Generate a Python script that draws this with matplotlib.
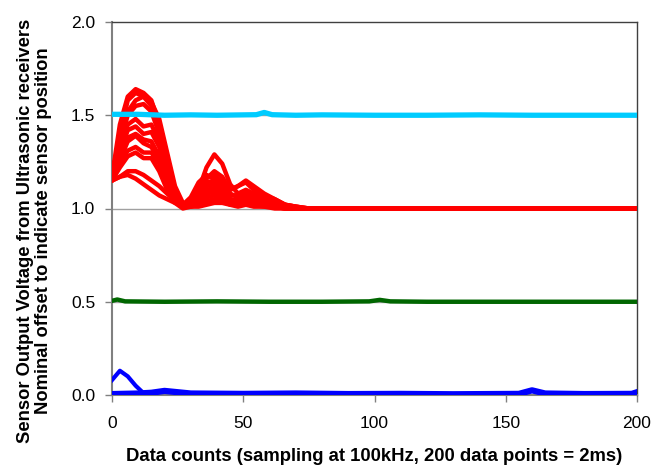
import matplotlib
matplotlib.use("Agg")
import matplotlib.pyplot as plt

plt.rcParams['font.family'] = ['Liberation Sans', 'DejaVu Sans']

# Red sensor curves (offset 1.0)
x_red = [0, 3, 6, 9, 12, 15, 18, 21, 24, 27, 30, 33, 36, 39, 42, 45, 48, 51, 54, 58, 62, 66, 70, 75, 200]
red_1 = [1.17, 1.45, 1.60, 1.64, 1.62, 1.58, 1.45, 1.25, 1.08, 1.02, 1.03, 1.10, 1.22, 1.29, 1.24, 1.13, 1.08, 1.10, 1.08, 1.05, 1.04, 1.02, 1.01, 1.0, 1.0]
red_2 = [1.16, 1.40, 1.58, 1.62, 1.60, 1.57, 1.48, 1.30, 1.12, 1.03, 1.02, 1.08, 1.16, 1.20, 1.17, 1.10, 1.12, 1.14, 1.10, 1.07, 1.05, 1.02, 1.01, 1.0, 1.0]
red_3 = [1.15, 1.35, 1.50, 1.55, 1.56, 1.52, 1.40, 1.22, 1.06, 1.01, 1.04, 1.12, 1.17, 1.18, 1.14, 1.08, 1.06, 1.08, 1.06, 1.04, 1.02, 1.01, 1.0, 1.0, 1.0]
red_4 = [1.16, 1.32, 1.45, 1.48, 1.44, 1.45, 1.36, 1.20, 1.06, 1.02, 1.05, 1.10, 1.14, 1.15, 1.12, 1.07, 1.07, 1.09, 1.06, 1.04, 1.03, 1.01, 1.0, 1.0, 1.0]
red_5 = [1.15, 1.30, 1.42, 1.44, 1.40, 1.41, 1.33, 1.18, 1.05, 1.01, 1.03, 1.08, 1.12, 1.13, 1.10, 1.05, 1.04, 1.06, 1.05, 1.03, 1.02, 1.01, 1.0, 1.0, 1.0]
red_6 = [1.17, 1.28, 1.38, 1.40, 1.37, 1.36, 1.28, 1.15, 1.04, 1.01, 1.04, 1.07, 1.10, 1.11, 1.08, 1.04, 1.05, 1.07, 1.04, 1.02, 1.02, 1.01, 1.0, 1.0, 1.0]
red_7 = [1.16, 1.24, 1.31, 1.33, 1.30, 1.30, 1.24, 1.13, 1.04, 1.01, 1.02, 1.05, 1.08, 1.09, 1.06, 1.03, 1.03, 1.05, 1.03, 1.02, 1.01, 1.0, 1.0, 1.0, 1.0]
red_8 = [1.15, 1.22, 1.28, 1.30, 1.27, 1.27, 1.20, 1.10, 1.03, 1.00, 1.01, 1.03, 1.06, 1.07, 1.05, 1.02, 1.03, 1.04, 1.03, 1.02, 1.01, 1.0, 1.0, 1.0, 1.0]
red_9 = [1.15, 1.17, 1.20, 1.20, 1.18, 1.15, 1.12, 1.08, 1.04, 1.02, 1.01, 1.02, 1.04, 1.05, 1.04, 1.03, 1.02, 1.03, 1.02, 1.01, 1.01, 1.0, 1.0, 1.0, 1.0]
red_10 = [1.15, 1.17, 1.18, 1.16, 1.13, 1.10, 1.07, 1.05, 1.03, 1.02, 1.01, 1.01, 1.02, 1.03, 1.03, 1.02, 1.01, 1.02, 1.01, 1.01, 1.0, 1.0, 1.0, 1.0, 1.0]
red_11 = [1.18, 1.38, 1.52, 1.58, 1.60, 1.55, 1.46, 1.28, 1.10, 1.02, 1.06, 1.14, 1.18, 1.16, 1.12, 1.10, 1.12, 1.15, 1.12, 1.08, 1.05, 1.02, 1.01, 1.0, 1.0]
red_12 = [1.16, 1.26, 1.36, 1.39, 1.35, 1.33, 1.26, 1.14, 1.04, 1.01, 1.03, 1.06, 1.09, 1.10, 1.08, 1.05, 1.04, 1.06, 1.05, 1.03, 1.02, 1.01, 1.0, 1.0, 1.0]
red_series = [red_1, red_2, red_3, red_4, red_5, red_6, red_7, red_8, red_9, red_10, red_11, red_12]

# Cyan sensor (offset 1.5)
x_cyan = [0, 10, 20, 30, 40, 50, 55, 58, 61, 70, 80, 100, 120, 140, 160, 180, 200]
cyan_y = [1.505, 1.505, 1.50, 1.502, 1.50, 1.502, 1.503, 1.515, 1.503, 1.50, 1.502, 1.50, 1.50, 1.502, 1.50, 1.50, 1.50]

# Green sensor (offset 0.5)
x_green = [0, 2, 5, 20, 40, 60, 80, 98, 102, 106, 120, 150, 180, 200]
green_y = [0.505, 0.512, 0.502, 0.50, 0.502, 0.50, 0.50, 0.502, 0.51, 0.502, 0.50, 0.50, 0.50, 0.50]

# Blue sensor (offset 0.0)
x_blue_spike = [0, 3, 6, 9, 12, 15]
blue_spike = [0.08, 0.13, 0.10, 0.05, 0.01, 0.005]
x_blue = [0, 10, 15, 20, 25, 30, 50, 70, 90, 110, 130, 155, 160, 165, 180, 198, 200]
blue_y = [0.005, 0.008, 0.012, 0.022, 0.015, 0.008, 0.006, 0.008, 0.005, 0.006, 0.004, 0.006, 0.025, 0.008, 0.005, 0.006, 0.015]

x_ticks = [0, 50, 100, 150, 200]
y_ticks = [0.0, 0.5, 1.0, 1.5, 2.0]
y_tick_labels = ["0.0", "0.5", "1.0", "1.5", "2.0"]

fig = plt.figure(figsize=(6.66, 4.70), dpi=100)
ax = fig.add_axes([112/666, 1 - 395/470, (637 - 112)/666, (395 - 22)/470])

for yy in [0.5, 1.0, 1.5]:
    ax.axhline(yy, color='#a0a0a0', lw=1.0, zorder=1)

for s in red_series:
    ax.plot(x_red, s, color='#ff0000', lw=3.2, solid_joinstyle='round',
            solid_capstyle='round', zorder=3)
ax.plot(x_cyan, cyan_y, color='#00ccff', lw=3.8, zorder=3)
ax.plot(x_green, green_y, color='#006600', lw=3.2, zorder=3)
ax.plot(x_blue, blue_y, color='#0000ff', lw=4.5, zorder=3)
ax.plot(x_blue_spike, blue_spike, color='#0000ff', lw=3.0, solid_joinstyle='round', zorder=3)

ax.set_xlim(0, 200)
ax.set_ylim(0, 2.0)
ax.set_xticks(x_ticks)
ax.set_yticks(y_ticks)
ax.set_yticklabels(y_tick_labels)
ax.tick_params(axis='both', direction='out', length=5, width=1, color='#808080',
               labelsize=12.5, pad=7)
ax.tick_params(axis='x', pad=10)

for side in ['left', 'bottom']:
    ax.spines[side].set_color('#808080')
    ax.spines[side].set_linewidth(1.5)
for side in ['top', 'right']:
    ax.spines[side].set_color('#404040')
    ax.spines[side].set_linewidth(1.0)

ax.set_xlabel("Data counts (sampling at 100kHz, 200 data points = 2ms)",
              fontsize=13.3, fontweight='bold', labelpad=12)
ax.set_ylabel("Sensor Output Voltage from Ultrasonic receivers\nNominal offset to indicate sensor position",
              fontsize=13.2, fontweight='bold', linespacing=1.05)
ax.yaxis.set_label_coords(-0.114, 0.44)

fig.savefig("out.png", dpi=100)
